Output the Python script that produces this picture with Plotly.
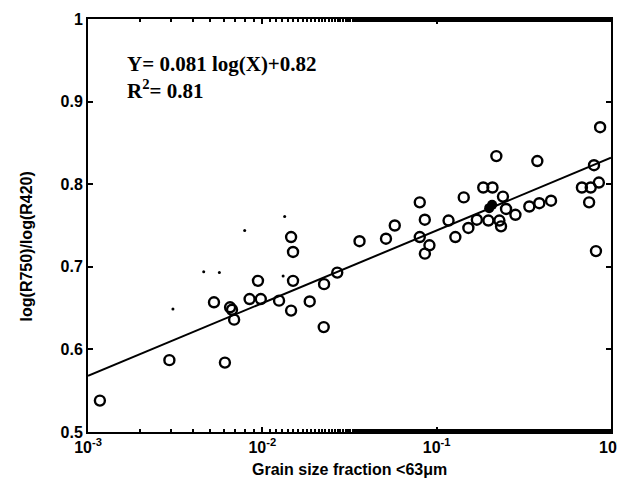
import plotly.graph_objects as go

# open circles: grain size fraction vs log ratio
grain_frac = [0.00117, 0.00293, 0.0061, 0.00528, 0.00653, 0.00670, 0.00689, 0.00845,
              0.00944, 0.0098, 0.01247, 0.01462, 0.0150, 0.0150, 0.01462, 0.0187,
              0.0226, 0.0225, 0.0269, 0.0361, 0.0512, 0.0575, 0.0800, 0.0800,
              0.0855, 0.0856, 0.0909, 0.117, 0.128, 0.143, 0.152, 0.170,
              0.185, 0.209, 0.198, 0.220, 0.240, 0.229, 0.234, 0.250,
              0.283, 0.340, 0.378, 0.388, 0.453, 0.681, 0.765, 0.749,
              0.799, 0.852, 0.820, 0.866]
log_ratio = [0.538, 0.587, 0.584, 0.657, 0.651, 0.648, 0.636, 0.661,
             0.683, 0.661, 0.659, 0.736, 0.718, 0.683, 0.647, 0.658,
             0.679, 0.627, 0.693, 0.731, 0.734, 0.750, 0.778, 0.736,
             0.757, 0.716, 0.726, 0.756, 0.736, 0.784, 0.747, 0.757,
             0.796, 0.796, 0.756, 0.834, 0.785, 0.756, 0.749, 0.770,
             0.763, 0.773, 0.828, 0.777, 0.780, 0.796, 0.796, 0.778,
             0.823, 0.802, 0.719, 0.869]

# filled markers
filled_x = [0.200, 0.208]
filled_y = [0.771, 0.775]

# tiny dots
dot_x = [0.00307, 0.00461, 0.00567, 0.00792, 0.01316, 0.01343]
dot_y = [0.649, 0.694, 0.693, 0.744, 0.689, 0.761]

# fitted line as drawn
fit_x = [0.001, 1.0]
fit_y = [0.568, 0.832]

# tick labels
x_ticks = [0.001, 0.01, 0.1, 1.0]
x_labels = ['10<sup>-3</sup>', '10<sup>-2</sup>', '10<sup>-1</sup>', '10<sup>0</sup>']
y_ticks = [0.5, 0.6, 0.7, 0.8, 0.9, 1.0]
y_labels = ['0.5', '0.6', '0.7', '0.8', '0.9', '1']

fig = go.Figure()

fig.add_trace(go.Scatter(
    x=fit_x, y=fit_y, mode='lines',
    line=dict(color='black', width=2),
    showlegend=False, hoverinfo='skip'
))
fig.add_trace(go.Scatter(
    x=grain_frac, y=log_ratio, mode='markers',
    marker=dict(symbol='circle-open', size=10, color='black',
                line=dict(width=2.4, color='black')),
    showlegend=False
))
fig.add_trace(go.Scatter(
    x=filled_x, y=filled_y, mode='markers',
    marker=dict(symbol='circle', size=10, color='black'),
    showlegend=False
))
fig.add_trace(go.Scatter(
    x=dot_x, y=dot_y, mode='markers',
    marker=dict(symbol='circle', size=3, color='black'),
    showlegend=False
))

# fit equation
fig.add_annotation(
    text="Y= 0.081 log(X)+0.82<br>R<sup>2</sup>= 0.81",
    xref='paper', yref='paper', x=0.071, y=0.925,
    xanchor='left', yanchor='top', align='left', showarrow=False,
    font=dict(family='Liberation Serif', size=21, color='black', weight='bold')
)

# axis titles placed by hand
fig.add_annotation(
    text='log(R750)/log(R420)', textangle=-90,
    xref='paper', yref='paper', x=-0.118, y=0.45,
    xanchor='center', yanchor='middle', showarrow=False,
    font=dict(family='Liberation Sans', size=16, color='black', weight='bold')
)
fig.add_annotation(
    text='Grain size fraction <63μm',
    xref='paper', yref='paper', x=0.5, y=-0.092,
    xanchor='center', yanchor='middle', showarrow=False,
    font=dict(family='Liberation Sans', size=16, color='black', weight='bold')
)

axis_common = dict(
    showline=True, linecolor='black', linewidth=2, mirror='ticks',
    ticks='inside', ticklen=5, tickwidth=1.5, tickcolor='black',
    showgrid=False, zeroline=False, automargin=False,
    ticklabeloverflow='allow',
    tickfont=dict(family='Liberation Sans', size=16, color='black', weight='bold'),
)

# page body has an 8px margin, so the figure is 8px smaller each way
fig.update_layout(
    width=617, height=476,
    margin=dict(l=80, r=14, t=11, b=52),
    paper_bgcolor='white', plot_bgcolor='white',
    xaxis=dict(
        type='log', range=[-3, 0],
        tickvals=x_ticks, ticktext=x_labels,
        minor=dict(ticks='inside', ticklen=3, tickcolor='black', showgrid=False),
        **axis_common
    ),
    yaxis=dict(
        range=[0.5, 1.0],
        tickvals=y_ticks, ticktext=y_labels,
        **axis_common
    ),
)

fig.write_html("out.html")
